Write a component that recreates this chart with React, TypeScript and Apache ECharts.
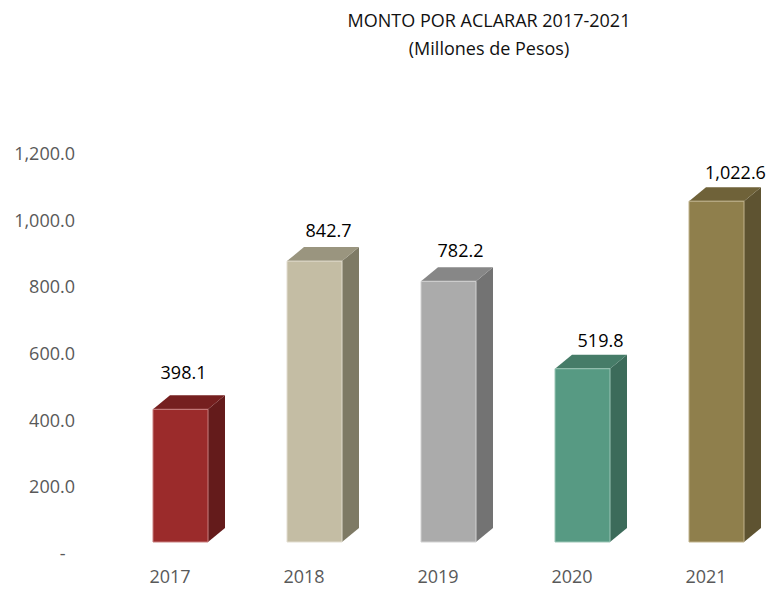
import React, { useEffect, useRef } from "react";
import * as echarts from "echarts";

const categories = ["2017", "2018", "2019", "2020", "2021"];
const values = [398.1, 842.7, 782.2, 519.8, 1022.6];
const yMin = 0;
const yMax = 1200;
const yInterval = 200;
const titleLines = ["MONTO POR ACLARAR 2017-2021", "(Millones de Pesos)"];

// styles / layout (not data)
const FRONT = ["#9B2B2B", "#C4BDA4", "#ABABAB", "#579A83", "#8F7F4C"];
const SIDE = ["#641B1B", "#7E7A65", "#737373", "#3C6B5A", "#5E5331"];
const TOP = ["#751F1F", "#9A957F", "#878787", "#467C68", "#6F6239"];
const EDGE = ["#c98080", "#e2ddd0", "#d2d2d2", "#9cc6b6", "#c0b38c"];
const LABEL_DX = [3, 14, 12, 18, 19];
const LABEL_DY = [23, 17, 17, 15, 15];
const FRONT_W = 55;
const FRONT_OFF = -17;
const DEPTH_X = 17;
const DEPTH_Y = 14;
const BASE_SHIFT = 11;
const FONT = '"Open Sans", "Noto Sans", sans-serif';

const fmt = (v: number) =>
  v === 0
    ? "-\u00a0\u00a0"
    : v.toLocaleString("en-US", { minimumFractionDigits: 1, maximumFractionDigits: 1 });

export default function App() {
  const ref = useRef<HTMLDivElement>(null);
  useEffect(() => {
    document.body.style.margin = "0";
    const chart = echarts.init(ref.current!, null, { renderer: "svg" });
    const option: any = {
      animation: false,
      backgroundColor: "#ffffff",
      title: {
        text: titleLines.join("\n"),
        left: 484,
        top: 1,
        textAlign: "center",
        textStyle: {
          fontFamily: FONT,
          fontSize: 18,
          fontWeight: "normal",
          color: "#111111",
          lineHeight: 28,
        },
      },
      grid: { left: 170, right: 65, top: 153, bottom: 37, containLabel: false },
      xAxis: {
        type: "category",
        data: categories,
        boundaryGap: false,
        axisLine: { show: false },
        axisTick: { show: false },
        splitLine: { show: false },
        axisLabel: { margin: 14, color: "#595959", fontSize: 18, fontFamily: FONT },
      },
      yAxis: {
        type: "value",
        min: yMin,
        max: yMax,
        interval: yInterval,
        axisLine: { show: false },
        axisTick: { show: false },
        splitLine: { show: false },
        axisLabel: {
          margin: 95,
          color: "#595959",
          fontSize: 18,
          fontFamily: FONT,
          formatter: (v: number) => fmt(v),
        },
      },
      series: [
        {
          type: "custom",
          data: values.map((v, i) => [i, v]),
          encode: { x: 0, y: 1 },
          renderItem: (params: any, api: any) => {
            const i = api.value(0);
            const v = api.value(1);
            const base = api.coord([i, 0]);
            const tp = api.coord([i, v]);
            const x0 = base[0] + FRONT_OFF;
            const x1 = x0 + FRONT_W;
            const yb = base[1] - BASE_SHIFT;
            const yt = tp[1] - BASE_SHIFT;
            return {
              type: "group",
              children: [
                {
                  type: "polygon",
                  shape: {
                    points: [
                      [x1, yt],
                      [x1 + DEPTH_X, yt - DEPTH_Y],
                      [x1 + DEPTH_X, yb - DEPTH_Y],
                      [x1, yb],
                    ],
                  },
                  style: { fill: SIDE[i] },
                },
                {
                  type: "polygon",
                  shape: {
                    points: [
                      [x0, yt],
                      [x0 + DEPTH_X, yt - DEPTH_Y],
                      [x1 + DEPTH_X, yt - DEPTH_Y],
                      [x1, yt],
                    ],
                  },
                  style: { fill: TOP[i] },
                },
                {
                  type: "rect",
                  shape: { x: x0, y: yt, width: FRONT_W, height: yb - yt },
                  style: { fill: FRONT[i], stroke: EDGE[i], lineWidth: 1 },
                },
                {
                  type: "text",
                  style: {
                    text: fmt(v),
                    x: (x0 + x1) / 2 + LABEL_DX[i],
                    y: yt - DEPTH_Y - LABEL_DY[i],
                    fill: "#000000",
                    font: "18px " + FONT,
                    align: "center",
                    verticalAlign: "middle",
                  },
                },
              ],
            };
          },
        },
      ],
    };
    chart.setOption(option);
    return () => chart.dispose();
  }, []);
  return (
    <div
      ref={ref}
      style={{ position: "absolute", left: 0, top: 0, width: 771, height: 590 }}
    />
  );
}
